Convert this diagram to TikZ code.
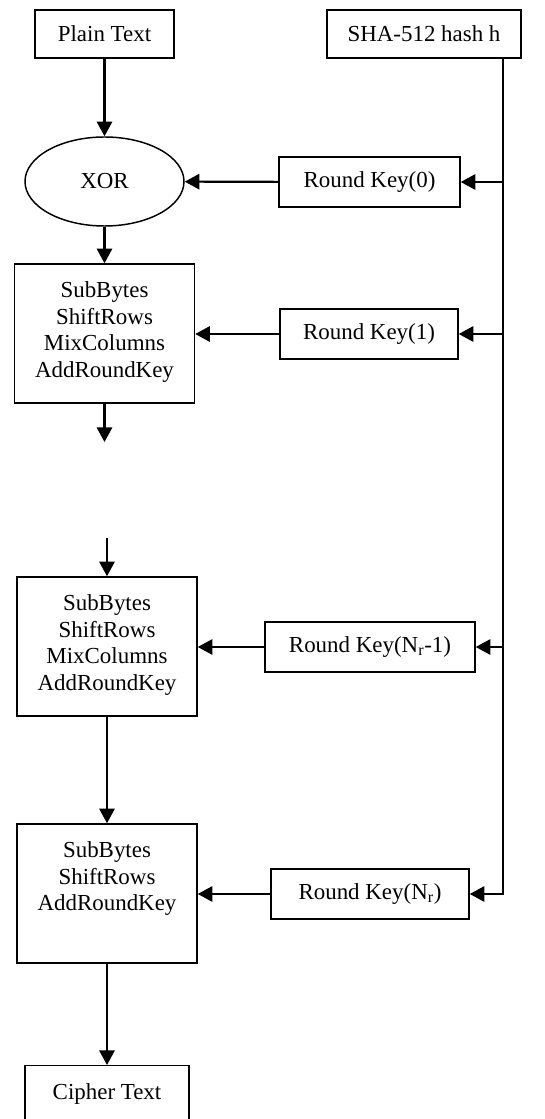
\documentclass[tikz,border=0pt]{standalone}
\usepackage{fontspec}
\setmainfont{Liberation Serif}
\usetikzlibrary{arrows.meta,shapes.geometric}

\begin{document}
\begin{tikzpicture}[x=0.75pt,y=-0.75pt,
    every node/.style={font=\fontsize{17.2}{20}\selectfont},
    box/.style={draw,line width=1.1pt,inner sep=0pt,minimum height=37.5pt},
    stage/.style={box,minimum width=135pt,minimum height=104.25pt},
    stagetext/.style={align=center,anchor=north,inner sep=0pt,yshift=-13.5pt},
    flow/.style={-{Triangle[length=11pt,width=11.5pt]},line width=1.6pt}]
    \clip (0,0) rectangle (545,1119);
    \node[box,minimum width=104.25pt,minimum height=36pt](plain) at (104.5,34) {Plain Text};
    \node[box,minimum width=145.5pt,minimum height=36pt](sha) at (424,34) {SHA-512 hash h};
    \node[ellipse,draw,line width=1.1pt,inner sep=0pt,minimum width=119.25pt,minimum height=66.75pt](xor) at (104.5,181.5) {XOR};
    \node[box,minimum width=135.75pt](rk0) at (369.5,182) {Round Key(0)};
    \node[stage,label={[stagetext]north:{SubBytes\\ShiftRows\\MixColumns\\AddRoundKey}}](box1) at (104.5,333.5) {};
    \node[box,minimum width=133.5pt](rk1) at (369,334) {Round Key(1)};
    \node[stage,label={[stagetext]north:{SubBytes\\ShiftRows\\MixColumns\\AddRoundKey}}](box2) at (107,646.5) {};
    \node[box,minimum width=157.5pt](rkA) at (370,647) {Round Key(N\textsubscript{r}-1)};
    \node[stage,label={[stagetext]north:{SubBytes\\ShiftRows\\AddRoundKey}}](box3) at (107,893.5) {};
    \node[box,minimum width=148.5pt](rkB) at (370,894) {Round Key(N\textsubscript{r})};
    \node[box,minimum width=123pt,anchor=north,text height=25pt,text depth=30pt](cipher) at (107,1065) {Cipher Text};
    \coordinate (hb) at ([xshift=-14.25pt]sha.south east);
    \coordinate (gapA) at (104.5,442);
    \coordinate (gapB) at (107,538);
    \draw[line width=1.3pt] (hb) -- (hb |- rk0);
    \draw[flow] (hb) |- (rkB);
    \draw[flow] (hb |- rk0) -- (rk0);
    \draw[flow] (hb |- rk1) -- (rk1);
    \draw[flow] (hb |- rkA) -- (rkA);
    \draw[flow] (plain) -- (xor);
    \draw[flow] (rk0) -- (xor);
    \draw[flow] (xor) -- (box1);
    \draw[flow] (rk1.west) -- (rk1.west -| box1.east);
    \draw[flow] (box1) -- (gapA);
    \draw[flow] (gapB) -- (box2);
    \draw[flow] (rkA.west) -- (rkA.west -| box2.east);
    \draw[flow] (box2) -- (box3);
    \draw[flow] (rkB.west) -- (rkB.west -| box3.east);
    \draw[flow] (box3) -- (cipher);
\end{tikzpicture}
\end{document}
